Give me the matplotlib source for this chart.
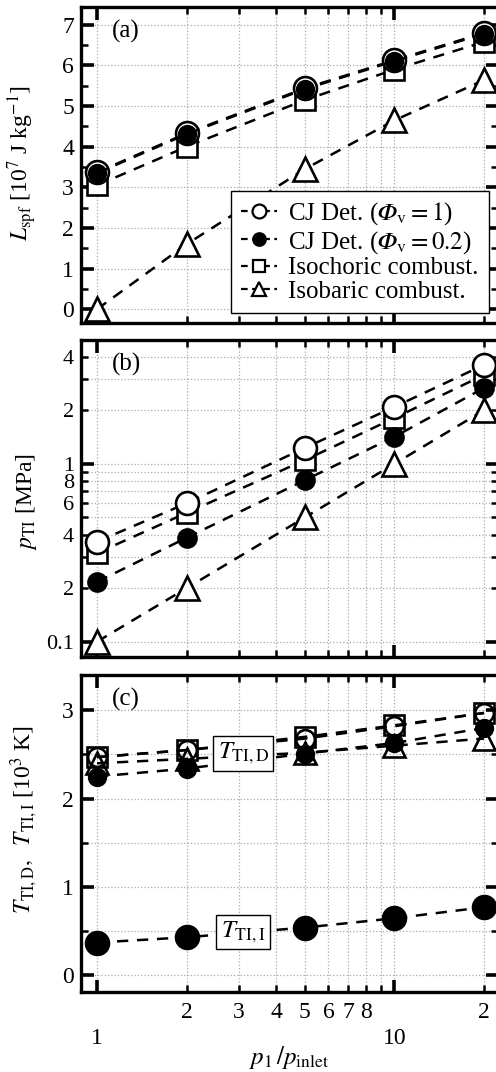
import matplotlib
matplotlib.use("Agg")
import matplotlib.pyplot as plt
from matplotlib.ticker import FixedLocator, FixedFormatter, NullFormatter
from matplotlib.lines import Line2D

plt.rcParams['font.family'] = ['Liberation Serif', 'DejaVu Serif']
plt.rcParams['mathtext.fontset'] = 'stix'

# ---------------- data ----------------
ratio = [1, 2, 5, 10, 20]

# (a) L_spf [10^7 J/kg]
L_cj1 = [3.37, 4.33, 5.44, 6.13, 6.80]
L_cj02 = [3.35, 4.31, 5.42, 6.11, 6.78]
L_isoch = [3.05, 4.00, 5.15, 5.90, 6.58]
L_isob = [0.0, 1.60, 3.45, 4.65, 5.64]

# (b) p_TI [MPa]
p_cj1 = [0.365, 0.60, 1.23, 2.09, 3.60]
p_cj02 = [0.217, 0.384, 0.81, 1.42, 2.67]
p_isoch = [0.315, 0.53, 1.05, 1.81, 3.16]
p_isob = [0.10, 0.20, 0.50, 1.00, 2.00]

# (c) T_TI,D and T_TI,I [10^3 K]
T_cj1 = [2.47, 2.55, 2.68, 2.82, 2.97]
T_cj02 = [2.25, 2.34, 2.51, 2.63, 2.80]
T_isoch = [2.47, 2.55, 2.70, 2.83, 2.97]
T_isob = [2.40, 2.45, 2.52, 2.60, 2.68]
T_I = [0.37, 0.43, 0.54, 0.645, 0.77]

legend_labels = [r'CJ Det. ($𝛷_{\rm v}=1$)',
                 r'CJ Det. ($𝛷_{\rm v}=0.2$)',
                 'Isochoric combust.',
                 'Isobaric combust.']

# ---------------- figure ----------------
W, H = 496, 1072
fig = plt.figure(figsize=(W / 100, H / 100), dpi=100)

left_px, right_px = 81, 498
panels_px = [(7, 323), (340, 657), (675, 992)]
axes = []
for top, bot in panels_px:
    ax = fig.add_axes([left_px / W, 1 - bot / H, (right_px - left_px) / W, (bot - top) / H])
    axes.append(ax)

dash = (0, (4.5, 3.5))
lw_line = 1.8
ms_big = 16.5
ms_fill = 13
mew = 1.9
TS = 17
LABX = (39 - left_px) / (right_px - left_px)


def style_axis(ax):
    ax.set_xscale('log')
    ax.set_xlim(0.883, 22.3)
    for s in ax.spines.values():
        s.set_linewidth(2.4)
    ax.tick_params(which='both', direction='in', top=True, right=True, labelsize=TS)
    ax.tick_params(which='major', length=9, width=2.6)
    ax.tick_params(which='minor', length=5, width=1.8)
    ax.tick_params(axis='y', which='both', pad=5)
    ax.xaxis.set_major_locator(FixedLocator([1, 10]))
    ax.xaxis.set_minor_locator(FixedLocator([2, 3, 4, 5, 6, 7, 8, 9, 20]))
    ax.grid(True, which='both', axis='x', color='#aaaaaa', linestyle=':', linewidth=0.9)
    ax.grid(True, which='major', axis='y', color='#aaaaaa', linestyle=':', linewidth=0.9)
    ax.set_axisbelow(True)


# ---- (a) ----
ax = axes[0]
style_axis(ax)
ax.set_ylim(-0.34, 7.44)
ax.yaxis.set_major_locator(FixedLocator(range(0, 8)))
ax.yaxis.set_minor_locator(FixedLocator([i + 0.5 for i in range(-1, 8)]))
ax.plot(ratio, L_isoch, linestyle=dash, color='k', lw=lw_line, marker='s', ms=ms_big - 1.5,
        mfc='white', mec='k', mew=mew, zorder=3)
ax.plot(ratio, L_isob, linestyle=dash, color='k', lw=lw_line, marker='^', ms=ms_big + 1,
        mfc='white', mec='k', mew=mew, zorder=3)
ax.plot(ratio, L_cj1, linestyle=dash, color='k', lw=lw_line, marker='o', ms=ms_big,
        mfc='white', mec='k', mew=mew, zorder=4)
ax.plot(ratio, L_cj02, linestyle=dash, color='k', lw=lw_line, marker='o', ms=ms_fill - 1,
        mfc='k', mec='k', mew=mew, zorder=5)
ax.xaxis.set_major_formatter(NullFormatter())
ax.xaxis.set_minor_formatter(NullFormatter())
ax.set_ylabel(r'$L_{\rm spf}$ [10$^7$ J kg$^{-1}$]', fontsize=17)
ax.yaxis.set_label_coords(LABX, 0.506)
ax.text(0.075, 0.96, '(a)', transform=ax.transAxes, fontsize=18, va='top')

handles = [
    Line2D([], [], linestyle=(0, (3, 2)), color='k', lw=1.6, marker='o', ms=10, mfc='white', mec='k', mew=1.6),
    Line2D([], [], linestyle=(0, (3, 2)), color='k', lw=1.6, marker='o', ms=9, mfc='k', mec='k', mew=1.6),
    Line2D([], [], linestyle=(0, (3, 2)), color='k', lw=1.6, marker='s', ms=9, mfc='white', mec='k', mew=1.6),
    Line2D([], [], linestyle=(0, (3, 2)), color='k', lw=1.6, marker='^', ms=10, mfc='white', mec='k', mew=1.6),
]
leg = ax.legend(handles, legend_labels, loc='lower left',
                bbox_to_anchor=((231 - left_px) / (right_px - left_px), 10 / 316),
                fontsize=18, frameon=True, fancybox=False, edgecolor='k', framealpha=1,
                handlelength=1.45, handletextpad=0.45, labelspacing=0.05, borderpad=0.4,
                borderaxespad=0.0)
leg.get_frame().set_linewidth(1.0)
leg.set_zorder(10)

# ---- (b) ----
ax = axes[1]
style_axis(ax)
ax.set_yscale('log')
ax.set_ylim(0.082, 4.97)
ymaj = [0.1, 1]
ymin = [0.2, 0.3, 0.4, 0.5, 0.6, 0.7, 0.8, 0.9, 2, 3, 4]
ax.yaxis.set_major_locator(FixedLocator(ymaj))
ax.yaxis.set_minor_locator(FixedLocator(ymin))
ax.yaxis.set_major_formatter(FixedFormatter(['0.1', '1']))
ax.yaxis.set_minor_formatter(FixedFormatter(['2', '', '4', '', '6', '', '8', '', '2', '', '4']))
ax.tick_params(axis='y', which='both', labelsize=16)
ax.grid(True, which='minor', axis='y', color='#aaaaaa', linestyle=':', linewidth=0.9)
ax.plot(ratio, p_isoch, linestyle=dash, color='k', lw=lw_line, marker='s', ms=ms_big - 1.5,
        mfc='white', mec='k', mew=mew, zorder=3)
ax.plot(ratio, p_cj1, linestyle=dash, color='k', lw=lw_line, marker='o', ms=ms_big,
        mfc='white', mec='k', mew=mew, zorder=4)
ax.plot(ratio, p_cj02, linestyle=dash, color='k', lw=lw_line, marker='o', ms=ms_fill,
        mfc='k', mec='k', mew=mew, zorder=5)
ax.plot(ratio, p_isob, linestyle=dash, color='k', lw=lw_line, marker='^', ms=ms_big + 1,
        mfc='white', mec='k', mew=mew, zorder=3)
ax.xaxis.set_major_formatter(NullFormatter())
ax.xaxis.set_minor_formatter(NullFormatter())
ax.set_ylabel(r'$p_{\rm TI}$ [MPa]', fontsize=17)
ax.yaxis.set_label_coords(LABX, 0.489)
ax.text(0.075, 0.96, '(b)', transform=ax.transAxes, fontsize=18, va='top')

# ---- (c) ----
ax = axes[2]
style_axis(ax)
ax.set_ylim(-0.19, 3.40)
ax.yaxis.set_major_locator(FixedLocator([0, 1, 2, 3]))
ax.yaxis.set_minor_locator(FixedLocator([0.5, 1.5, 2.5]))
ax.grid(True, which='minor', axis='y', color='#aaaaaa', linestyle=':', linewidth=0.9)
ax.plot(ratio, T_isoch, linestyle=dash, color='k', lw=lw_line, marker='s', ms=ms_big - 1.5,
        mfc='none', mec='k', mew=mew, zorder=3)
ax.plot(ratio, T_cj1, linestyle=dash, color='k', lw=lw_line, marker='o', ms=ms_big - 3,
        mfc='none', mec='k', mew=mew, zorder=4)
ax.plot(ratio, T_isob, linestyle=dash, color='k', lw=lw_line, marker='^', ms=ms_big,
        mfc='none', mec='k', mew=mew, zorder=3)
ax.plot(ratio, T_cj02, linestyle=dash, color='k', lw=lw_line, marker='o', ms=ms_fill - 1,
        mfc='k', mec='k', mew=mew, zorder=5)
ax.plot(ratio, T_I, linestyle=dash, color='k', lw=lw_line, marker='o', ms=ms_big,
        mfc='k', mec='k', mew=mew, zorder=5)
ax.xaxis.set_major_formatter(FixedFormatter(['1', '10']))
ax.xaxis.set_minor_formatter(FixedFormatter(['2', '3', '4', '5', '6', '7', '8', '', '2']))
ax.tick_params(axis='x', which='major', pad=26, labelsize=TS)
ax.tick_params(axis='x', which='minor', pad=7, labelsize=TS)
ax.set_ylabel(r'$T_{\rm TI,D},\ \ T_{\rm TI,I}$ [10$^3$ K]', fontsize=17)
ax.yaxis.set_label_coords(LABX, 0.543)
ax.set_xlabel(r'$p_{\rm 1}\,/p_{\rm inlet}$', fontsize=18, labelpad=-4)
ax.text(0.075, 0.96, '(c)', transform=ax.transAxes, fontsize=18, va='top')
box = dict(boxstyle='square,pad=0.18', fc='white', ec='k', lw=1.0)
ax.text(3.1, 2.51, r'$T_{\rm TI,D}$', fontsize=18, ha='center', va='center', bbox=box, zorder=8)
ax.text(3.1, 0.49, r'$T_{\rm TI,I}$', fontsize=18, ha='center', va='center', bbox=box, zorder=8)

fig.savefig('out.png', dpi=100)
